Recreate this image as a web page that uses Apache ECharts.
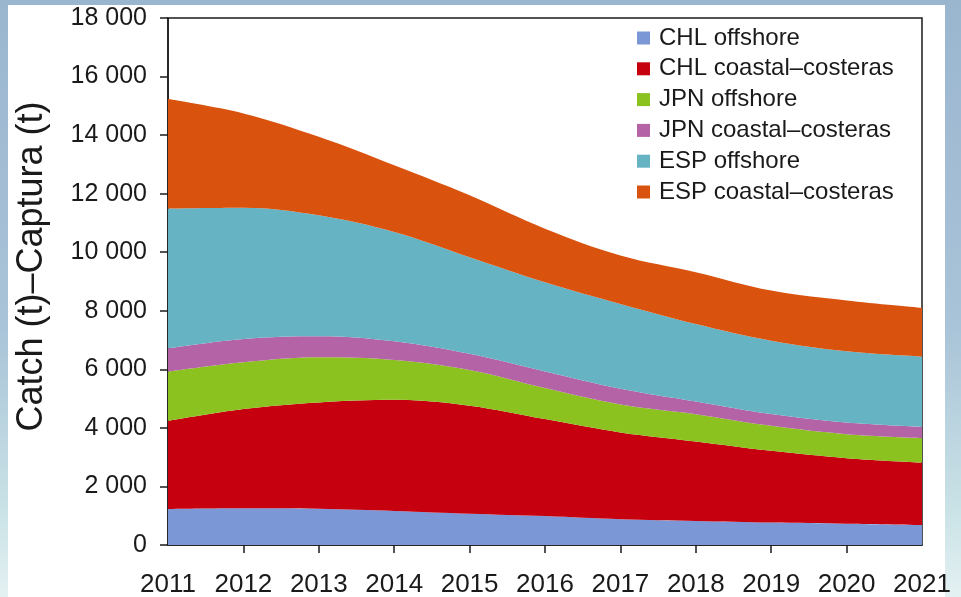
<!DOCTYPE html>
<html>
<head>
<meta charset="utf-8">
<script src="https://cdn.jsdelivr.net/npm/echarts@6/dist/echarts.min.js"></script>
<style>
html,body{margin:0;padding:0;width:961px;height:597px;overflow:hidden;background:#9db8cf;}
#wrap{position:absolute;left:0;top:0;width:961px;height:597px;background:linear-gradient(180deg,#9ab6cf 0%,#a9c3d8 55%,#c9e2e6 85%,#e4f1f2 100%);}
#panel{position:absolute;left:8px;top:5px;width:937px;height:592px;background:#ffffff;}
#chart{position:absolute;left:0;top:0;width:961px;height:597px;}
</style>
</head>
<body>
<div id="wrap"></div>
<div id="panel"></div>
<div id="chart"></div>
<script>
const years = ['2011','2012','2013','2014','2015','2016','2017','2018','2019','2020','2021'];
const yTicks = [0, 2000, 4000, 6000, 8000, 10000, 12000, 14000, 16000, 18000];
const chlOffshore = [1230, 1255, 1240, 1165, 1070, 990, 880, 820, 765, 730, 685];
const chlCoastal  = [3010, 3390, 3630, 3795, 3690, 3310, 2965, 2715, 2450, 2235, 2130];
const jpnOffshore = [1680, 1595, 1540, 1360, 1220, 1060, 955, 935, 855, 820, 835];
const jpnCoastal  = [800, 800, 720, 640, 550, 570, 540, 435, 405, 400, 390];
const espOffshore = [4770, 4480, 4130, 3730, 3300, 3045, 2895, 2645, 2505, 2430, 2395];
const espCoastal  = [3740, 3220, 2680, 2280, 2115, 1830, 1655, 1770, 1710, 1735, 1665];

const seriesDefs = [
  {name: 'CHL offshore', data: chlOffshore, color: '#7b97d6'},
  {name: 'CHL coastal\u2013costeras', data: chlCoastal, color: '#c6000f'},
  {name: 'JPN offshore', data: jpnOffshore, color: '#8cc21f'},
  {name: 'JPN coastal\u2013costeras', data: jpnCoastal, color: '#b464a6'},
  {name: 'ESP offshore', data: espOffshore, color: '#66b3c3'},
  {name: 'ESP coastal\u2013costeras', data: espCoastal, color: '#d9530e'}
];

const fmt = v => {
  if (v === 0) return '0';
  const s = String(v);
  return s.slice(0, s.length - 3) + ' ' + s.slice(-3);
};

const chart = echarts.init(document.getElementById('chart'), null, {renderer: 'canvas'});
chart.setOption({
  animation: false,
  backgroundColor: 'transparent',
  textStyle: {fontFamily: 'Liberation Sans, Arial, sans-serif', color: '#1a1a1a'},
  grid: {left: 168, right: 39, top: 18, bottom: 52, show: true, borderColor: '#1a1a1a', borderWidth: 1.5, backgroundColor: 'transparent', outerBoundsMode: 'none', containLabel: false},
  legend: {
    orient: 'vertical', left: 632, top: 21, itemGap: 6.8, itemWidth: 13, itemHeight: 13,
    icon: 'rect',
    textStyle: {fontSize: 24, color: '#1a1a1a', fontFamily: 'Liberation Sans, Arial, sans-serif', padding: [0,0,0,4]},
    data: seriesDefs.map(s => s.name)
  },
  xAxis: {
    type: 'category', data: years, boundaryGap: false,
    axisLine: {lineStyle: {color: '#1a1a1a', width: 1.5}},
    axisTick: {length: 8, lineStyle: {color: '#1a1a1a', width: 1.5}, interval: (i) => i > 0 && i < years.length - 1},
    axisLabel: {fontSize: 26, color: '#1a1a1a', margin: 27, interval: 0},
    splitLine: {show: false}
  },
  yAxis: {
    type: 'value', min: yTicks[0], max: yTicks[yTicks.length - 1], interval: 2000,
    name: 'Catch (t)\u2013Captura (t)', nameLocation: 'middle', nameGap: 118,
    nameTextStyle: {fontSize: 36, color: '#1a1a1a', padding: [0, 0, 0, 30]},
    axisLine: {show: true, lineStyle: {color: '#1a1a1a', width: 1.5}},
    axisTick: {show: true, inside: false, length: 8, lineStyle: {color: '#1a1a1a', width: 1.5}},
    axisLabel: {fontSize: 25, color: '#1a1a1a', margin: 21, formatter: fmt},
    splitLine: {show: false}
  },
  series: seriesDefs.map(s => ({
    name: s.name, type: 'line', stack: 'total', data: s.data, smooth: 0.35,
    symbol: 'none', color: s.color,
    lineStyle: {width: 0},
    areaStyle: {color: s.color, opacity: 1}
  }))
});
</script>
</body>
</html>
